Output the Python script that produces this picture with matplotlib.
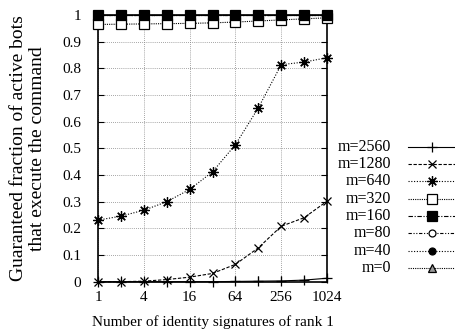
import numpy as np
import matplotlib
matplotlib.use("Agg")
import matplotlib.pyplot as plt
from matplotlib.ticker import NullFormatter

plt.rcParams["font.family"] = ["Liberation Serif", "DejaVu Serif"]
plt.rcParams["font.size"] = 11

# number of identity signatures of rank 1 (1, 2, 4, ..., 1024)
signatures = [1, 2, 4, 8, 16, 32, 64, 128, 256, 512, 1024]

frac_m2560 = [0.0, 0.0, 0.0, 0.0, 0.0, 0.0, 0.001, 0.002, 0.003, 0.006, 0.013]
frac_m1280 = [0.0, 0.0, 0.002, 0.008, 0.017, 0.031, 0.065, 0.127, 0.208, 0.240, 0.302]
frac_m640 = [0.231, 0.246, 0.268, 0.300, 0.346, 0.412, 0.514, 0.652, 0.814, 0.824, 0.840]
frac_m320 = [0.965, 0.966, 0.967, 0.968, 0.969, 0.971, 0.974, 0.978, 0.982, 0.986, 0.990]
frac_m160 = [1.0] * 11
frac_m80 = [1.0] * 11
frac_m40 = [1.0] * 11
frac_m0 = [1.0] * 11

labels = ["m=2560", "m=1280", "m=640", "m=320", "m=160", "m=80", "m=40", "m=0"]
series = [frac_m2560, frac_m1280, frac_m640, frac_m320,
          frac_m160, frac_m80, frac_m40, frac_m0]

# gnuplot-ish point / line styles
styles = [
    dict(marker="+", ms=7, ls="-", mfc="none"),
    dict(marker="x", ms=6, ls=(0, (3, 1.5)), mfc="none"),
    dict(marker=(8, 2, 0), ms=7.5, ls=(0, (1, 1.5)), mfc="none"),
    dict(marker="s", ms=6.5, ls=(0, (1, 1)), mfc="white"),
    dict(marker="s", ms=6.5, ls=(0, (4, 1.5, 1, 1.5)), mfc="black"),
    dict(marker="o", ms=5, ls=(0, (3, 1.5, 1, 1.5, 1, 1.5)), mfc="white"),
    dict(marker="o", ms=5, ls=(0, (1, 1.5)), mfc="black"),
    dict(marker="^", ms=5.5, ls=(0, (1, 1)), mfc="#999999"),
]
zorders = [5, 5, 5, 6, 9, 7, 7, 7]

fig = plt.figure(figsize=(4.55, 3.36), dpi=100)
ax = fig.add_axes([0.2154, 0.1616, 0.5033, 0.7934])

for ys, st, z in zip(series, styles, zorders):
    ax.plot(signatures, ys, color="black", lw=0.8, mew=0.9, mec="black",
            clip_on=False, zorder=z, **st)

ax.set_xscale("log", base=2)
ax.set_xlim(1, 1024)
ax.set_ylim(0, 1)
ax.set_xticks([1, 4, 16, 64, 256, 1024])
ax.set_xticklabels(["1", "4", "16", "64", "256", "1024"])
ax.set_xticks([2, 8, 32, 128, 512], minor=True)
ax.xaxis.set_minor_formatter(NullFormatter())
ax.set_yticks(np.arange(0, 1.01, 0.1))
ax.set_yticklabels(["0"] + ["%.1f" % v for v in np.arange(0.1, 0.95, 0.1)] + ["1"])

ax.tick_params(which="both", direction="in", top=True, right=True,
               length=4, width=0.8)
ax.tick_params(axis="y", pad=12)
ax.tick_params(axis="x", pad=7)
ax.grid(True, which="major", color="#888888", ls=(0, (1, 1.5)), lw=0.6)
for sp in ax.spines.values():
    sp.set_linewidth(1.2)

ax.set_ylabel("Guaranteed fraction of active bots\nthat execute the command",
              fontsize=14, labelpad=12, linespacing=1.15)
ax.set_xlabel("Number of identity signatures of rank 1", fontsize=11, labelpad=8)

# legend drawn by hand so the text is right-aligned like gnuplot's key
lax = fig.add_axes([408 / 455, 0.0, 47 / 455, 1.0])
lax.set_xlim(0, 1)
lax.set_ylim(336, 0)
lax.axis("off")
row_y = 146.7
for lab, st in zip(labels, styles):
    lax.plot([0, 0.5, 1.0], [row_y] * 3, color="black", lw=0.8, mew=0.9,
             mec="black", markevery=[1], clip_on=False, **st)
    fig.text(391 / 455, 1 - row_y / 336, lab, ha="right", va="center",
             fontsize=11.5)
    row_y += 17.3

fig.savefig("out.png", dpi=100)
